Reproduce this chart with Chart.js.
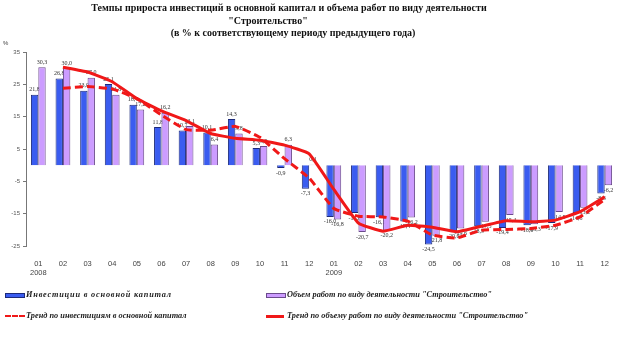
<!DOCTYPE html>
<html>
<head>
<meta charset="utf-8">
<script src="https://cdn.jsdelivr.net/npm/chart.js@4/dist/chart.umd.min.js"></script>
<style>
html,body{margin:0;padding:0;background:#fff;}
#wrap{position:relative;width:623px;height:349px;overflow:hidden;}
#c{position:absolute;left:0;top:0;}
.t{position:absolute;font-family:"Liberation Serif","Times New Roman",serif;font-weight:bold;font-size:10px;line-height:12px;text-align:center;color:#111;white-space:nowrap;}
.lg{position:absolute;font-family:"Liberation Serif","Times New Roman",serif;font-weight:bold;font-style:italic;font-size:8.3px;line-height:12px;color:#222;white-space:nowrap;}
.mk{position:absolute;}
#pct{position:absolute;left:3px;top:40px;font-family:"Liberation Sans",sans-serif;font-size:6px;color:#444;}
</style>
</head>
<body>
<div id="wrap">
<canvas id="c" width="623" height="349"></canvas>
<div id="pct">%</div>
</div>
<script>
// ---- data ----
const titleLines = [
  "Темпы прироста инвестиций в основной капитал и объема работ по виду деятельности",
  "\"Строительство\"",
  "(в % к соответствующему периоду предыдущего года)"
];
const months = ["01","02","03","04","05","06","07","08","09","10","11","12"];
const years = ["2008","2009"];
const seriesNames = [
  "Инвестиции в основной капитал",
  "Объем работ по виду деятельности \"Строительство\"",
  "Тренд по инвестициям в основной капитал",
  "Тренд по объему работ по виду деятельности \"Строительство\""
];
const investments = [21.8, 26.8, 23.0, 25.1, 18.7, 11.8, 10.7, 10.1, 14.3, 5.3, -0.9, -7.3,
                     -16.0, -14.8, -16.1, -17.4, -24.5, -20.6, -18.9, -19.4, -18.6, -17.9, -14.8, -8.8];
const construction = [30.3, 30.0, 27.0, 21.8, 17.2, 16.2, 12.1, 6.4, 9.8, 5.9, 6.3, 0.1,
                      -16.8, -20.7, -20.2, -16.2, -21.8, -19.6, -17.5, -15.4, -18.3, -14.5, -13.2, -6.2];
const trendInvestments = [null, 23.8, 24.3, 23.6, 20.6, 15.5, 11.0, 10.8, 12.0, 8.6, 2.0, -4.0,
                          -13.4, -15.8, -16.0, -17.3, -21.6, -22.5, -20.1, -19.9, -19.6, -18.6, -16.0, -10.6];
const trendConstruction = [null, 30.3, 28.8, 25.8, 20.6, 16.8, 13.8, 9.8, 8.3, 7.7, 6.2, 3.5,
                           -7.5, -17.9, -20.4, -18.6, -19.2, -20.6, -18.9, -17.2, -17.5, -17.0, -14.4, -9.8];
const yTicks = {min: -25, max: 35, step: 10};

// ---- build ----
const labels = [];
years.forEach(y => months.forEach((m, i) => labels.push(i === 0 ? [m, y] : m)));

const colors = {
  blue: "#3a5cf0", blueBorder: "#1c2a7a",
  purple: "#cc9cff", purpleBorder: "#6b4b8c",
  red: "#f01818"
};

const valueLabels = {
  id: "valueLabels",
  beforeDatasetsDraw(chart) {
    const ctx = chart.ctx;
    ctx.save();
    ctx.font = "6px 'Liberation Serif', serif";
    ctx.fillStyle = "#333";
    ctx.textAlign = "center";
    [0, 1].forEach(di => {
      const meta = chart.getDatasetMeta(di);
      const data = chart.data.datasets[di].data;
      meta.data.forEach((el, i) => {
        const v = data[i];
        const txt = v.toFixed(1).replace(".", ",");
        if (v >= 0) { ctx.textBaseline = "bottom"; ctx.fillText(txt, el.x, el.y - 2); }
        else { ctx.textBaseline = "top"; ctx.fillText(txt, el.x, el.y + 2); }
      });
    });
    ctx.restore();
  }
};

new Chart(document.getElementById("c"), {
  data: {
    labels: labels,
    datasets: [
      {type: "bar", label: seriesNames[0], data: investments, backgroundColor: colors.blue,
       borderColor: colors.blueBorder, borderWidth: 1, categoryPercentage: 0.6, barPercentage: 1.0, order: 2},
      {type: "bar", label: seriesNames[1], data: construction, backgroundColor: colors.purple,
       borderColor: colors.purpleBorder, borderWidth: 1, categoryPercentage: 0.6, barPercentage: 1.0, order: 2},
      {type: "line", label: seriesNames[2], data: trendInvestments, borderColor: colors.red,
       borderWidth: 3, borderDash: [8, 4], pointRadius: 0, tension: 0.12, fill: false, order: 0},
      {type: "line", label: seriesNames[3], data: trendConstruction, borderColor: colors.red,
       borderWidth: 3, pointRadius: 0, tension: 0.12, fill: false, order: 1}
    ]
  },
  options: {
    responsive: false,
    animation: false,
    devicePixelRatio: 1,
    layout: {padding: {top: 52, right: 6, left: 0, bottom: 0}},
    plugins: {legend: {display: false}, title: {display: false}, tooltip: {enabled: false}},
    scales: {
      x: {
        offset: true,
        grid: {display: false},
        border: {display: false},
        ticks: {autoSkip: false, maxRotation: 0, padding: 5, color: "#444",
                font: {family: "'Liberation Sans', sans-serif", size: 7.5, lineHeight: 1.2}},
        afterFit: s => { s.height = 103; }
      },
      y: {
        min: yTicks.min, max: yTicks.max,
        ticks: {stepSize: yTicks.step, color: "#555", padding: 3,
                font: {family: "'Liberation Sans', sans-serif", size: 6}},
        grid: {drawOnChartArea: false, drawTicks: true, tickLength: 3, color: "#777"},
        border: {display: true, color: "#777"},
        afterFit: s => { s.width = 26; }
      }
    }
  },
  plugins: [valueLabels]
});

// ---- HTML title ----
const wrap = document.getElementById("wrap");
const titlePos = [{cx: 289, top: 2}, {cx: 268, top: 15}, {cx: 293, top: 27}];
titleLines.forEach((t, i) => {
  const d = document.createElement("div");
  d.className = "t";
  d.textContent = t;
  d.style.left = (titlePos[i].cx - 300) + "px";
  d.style.width = "600px";
  d.style.top = titlePos[i].top + "px";
  wrap.appendChild(d);
});

// ---- HTML legend ----
const legPos = [
  {x: 5, y: 295, kind: "bar", fill: colors.blue, border: colors.blueBorder, ls: 0.8},
  {x: 266, y: 295, kind: "bar", fill: colors.purple, border: colors.purpleBorder, ls: 0},
  {x: 5, y: 316, kind: "dash", fill: colors.red, ls: 0},
  {x: 266, y: 316, kind: "line", fill: colors.red, ls: 0}
];
legPos.forEach((p, i) => {
  const m = document.createElement("div");
  m.className = "mk";
  m.style.left = p.x + "px";
  if (p.kind === "bar") {
    m.style.top = (p.y - 2) + "px"; m.style.width = "18px"; m.style.height = "3px";
    m.style.background = p.fill; m.style.border = "1px solid " + p.border;
  } else if (p.kind === "dash") {
    m.style.top = (p.y - 1) + "px"; m.style.width = "20px"; m.style.height = "0px";
    m.style.borderTop = "2.5px dashed " + p.fill;
  } else {
    m.style.top = (p.y - 1) + "px"; m.style.width = "18px"; m.style.height = "2.5px";
    m.style.background = p.fill;
  }
  wrap.appendChild(m);
  const t = document.createElement("div");
  t.className = "lg";
  t.textContent = seriesNames[i];
  t.style.letterSpacing = p.ls + "px";
  t.style.left = (p.x + 21) + "px";
  t.style.top = (p.y - 6) + "px";
  wrap.appendChild(t);
});
</script>
</body>
</html>
